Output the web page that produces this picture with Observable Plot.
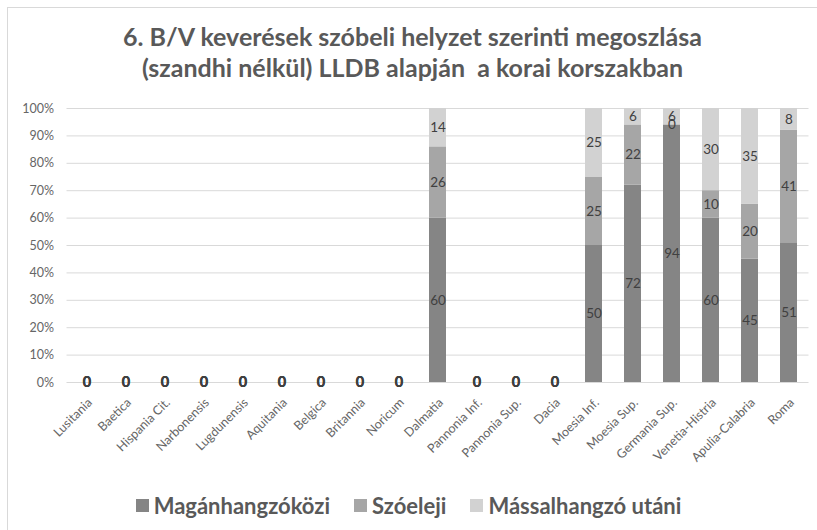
<!DOCTYPE html>
<html>
<head>
<meta charset="utf-8">
<script src="https://cdn.jsdelivr.net/npm/d3@7"></script>
<script src="https://cdn.jsdelivr.net/npm/@observablehq/plot@0.6"></script>
<style>
  body { margin: 0; background: #fff; font-family: Lato, "Open Sans", sans-serif; }
  #wrap { position: relative; width: 817px; height: 530px; overflow: hidden; background: #fff; }
  #frame { position: absolute; left: 7px; top: 7px; width: 830px; height: 540px; border: 1px solid #d9d9d9; box-sizing: border-box; }
  #title { position: absolute; top: 21px; left: 4px; width: 817px; text-align: center; font-size: 25px; line-height: 31px; font-weight: bold; color: #595959; }
  #chart { position: absolute; top: 90px; left: 0; }
  #legend { position: absolute; top: 492px; left: 0; width: 817px; display: flex; justify-content: center; align-items: center; font-size: 22px; font-weight: bold; color: #595959; }
  .item { display: flex; align-items: center; margin: 0 12px; }
  .sw { width: 13px; height: 13px; margin-right: 5px; }
</style>
</head>
<body>
<div id="wrap">
  <div id="frame"></div>
  <div id="title">6. B/V keverések szóbeli helyzet szerinti megoszlása<br>(szandhi nélkül) LLDB alapján&nbsp; a korai korszakban</div>
  <div id="chart"></div>
  <div id="legend"></div>
</div>
<script>
const categories = ["Lusitania","Baetica","Hispania Cit.","Narbonensis","Lugdunensis","Aquitania","Belgica","Britannia","Noricum","Dalmatia","Pannonia Inf.","Pannonia Sup.","Dacia","Moesia Inf.","Moesia Sup.","Germania Sup.","Venetia-Histria","Apulia-Calabria","Roma"];
const series = ["Magánhangzóközi","Szóeleji","Mássalhangzó utáni"];
const maganhangzokozi = [0,0,0,0,0,0,0,0,0,60,0,0,0,50,72,94,60,45,51];
const szoeleji        = [0,0,0,0,0,0,0,0,0,26,0,0,0,25,22,0,10,20,41];
const massalhangzo    = [0,0,0,0,0,0,0,0,0,14,0,0,0,25,6,6,30,35,8];
const yTicks = [0,10,20,30,40,50,60,70,80,90,100];
const colors = ["#858585","#a6a6a6","#d2d2d2"];

const valuesBySeries = [maganhangzokozi, szoeleji, massalhangzo];
const totals = categories.map((c, i) => valuesBySeries.reduce((s, arr) => s + arr[i], 0));
const rows = [];
series.forEach((s, k) => {
  categories.forEach((c, i) => {
    rows.push({category: c, series: s, value: valuesBySeries[k][i], total: totals[i]});
  });
});
const filled = rows.filter(d => d.total > 0);
const empty = rows.filter(d => d.total === 0);

const chart = Plot.plot({
  width: 817,
  height: 390,
  marginTop: 18,
  marginBottom: 98,
  marginLeft: 66.5,
  marginRight: 8.5,
  style: {fontFamily: "Lato, 'Open Sans', sans-serif", fontSize: "12px", color: "#595959", background: "transparent"},
  x: {domain: categories, paddingInner: 0.56, paddingOuter: 0.28, label: null},
  y: {domain: [0, 100], label: null},
  color: {domain: series, range: colors},
  marks: [
    Plot.gridY(yTicks, {stroke: "#d9d9d9", strokeOpacity: 1, strokeWidth: 1}),
    Plot.barY(rows, {x: "category", y: "value", z: "series", fill: "series"}),
    Plot.text(filled, Plot.stackY({x: "category", y: "value", z: "series", text: d => String(d.value), fill: "#404040", fontSize: 13.5})),
    Plot.text(empty, Plot.stackY({x: "category", y: "value", z: "series", text: d => String(d.value), fill: "#404040", fontSize: 14.5, fontWeight: "bold"})),
    Plot.axisY({ticks: yTicks, tickSize: 0, tickPadding: 13, tickFormat: d => d + "%", fill: "#666666", fontSize: 12.5}),
    Plot.axisX({tickRotate: -45, tickSize: 0, tickPadding: 18, dx: 3, fill: "#666666", fontSize: 12.5})
  ]
});
document.getElementById("chart").appendChild(chart);

const legend = document.getElementById("legend");
series.forEach((s, k) => {
  const it = document.createElement("div");
  it.className = "item";
  const sw = document.createElement("span");
  sw.className = "sw";
  sw.style.background = colors[k];
  const t = document.createElement("span");
  t.textContent = s;
  it.appendChild(sw);
  it.appendChild(t);
  legend.appendChild(it);
});
</script>
</body>
</html>
